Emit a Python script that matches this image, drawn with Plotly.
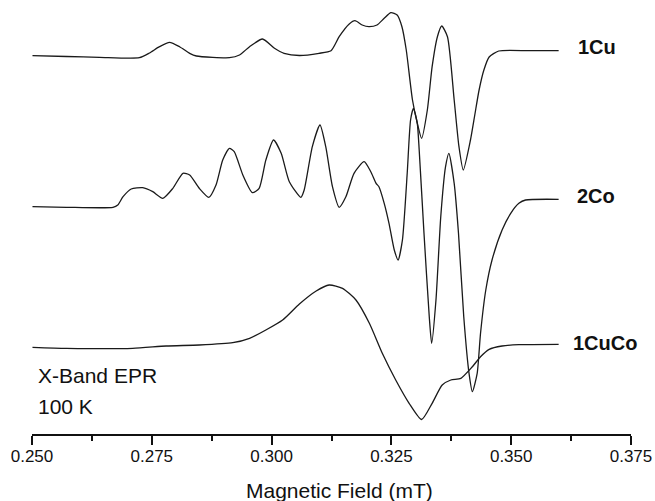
import plotly.graph_objects as go

# Field values (T, axis labelled "mT") and derivative signals (a.u.)
cu_field = [0.2501, 0.2572, 0.2641, 0.2724, 0.2745, 0.2766, 0.2787, 0.2808, 0.2829, 0.2843,
            0.2912, 0.2933, 0.2954, 0.2981, 0.3006, 0.3026, 0.3058, 0.3099, 0.3124, 0.3141,
            0.3162, 0.3174, 0.3189, 0.3203, 0.3220, 0.3235, 0.3249, 0.3262, 0.3272, 0.3281,
            0.3294, 0.3304, 0.3313, 0.3325, 0.3335, 0.3346, 0.3355, 0.3367, 0.3381, 0.3391,
            0.3400, 0.3415, 0.3424, 0.3433, 0.3443, 0.3454, 0.3474, 0.3537, 0.3599]
cu_signal = [0.3, -0.5, -1.3, -1.7, 3, 9.3, 13.7, 9.3, 2.7, 0,
             -1.7, 1, 9.3, 17, 7.7, 2.7, 0.5, 2.7, 5.3, 19.3,
             32, 35.3, 31, 29.3, 31, 37.7, 43.3, 41, 29.3, 6,
             -44, -67, -82.3, -54, -10.7, 19.3, 30, 19.3, -44, -90.7,
             -114, -84, -59, -34, -14, -1, 5, 5.3, 5.3]

co_field = [0.2501, 0.2572, 0.2669, 0.2679, 0.2690, 0.2707, 0.2731, 0.2752, 0.2773, 0.2794,
            0.2815, 0.2829, 0.2849, 0.2869, 0.2884, 0.2898, 0.2912, 0.2922, 0.2940, 0.2960,
            0.2974, 0.2988, 0.3004, 0.3020, 0.3037, 0.3061, 0.3068, 0.3085, 0.3101, 0.3113,
            0.3127, 0.3141, 0.3155, 0.3172, 0.3193, 0.3207, 0.3218, 0.3224, 0.3235, 0.3245,
            0.3256, 0.3264, 0.3273, 0.3283, 0.3290, 0.3296, 0.3304, 0.3308, 0.3318, 0.3329,
            0.3334, 0.3343, 0.3353, 0.3363, 0.3370, 0.3381, 0.3390, 0.3401, 0.3412, 0.3419,
            0.3429, 0.3436, 0.3447, 0.3460, 0.3481, 0.3499, 0.3516, 0.3530, 0.3599]
co_signal = [0.3, -0.3, -0.3, 2, 10.3, 18, 19.3, 15.3, 8.7, 18.7,
             33.7, 32, 18.7, 9.7, 22, 47, 58.7, 55.3, 32, 14.3,
             18.7, 47, 67, 53.7, 25.3, 9.7, 17, 60.3, 82, 60.3,
             20.3, -0.3, 10.3, 33.7, 45.3, 35.3, 23.7, 20.3, 3.7, -16.3,
             -43, -53, -33, 33.7, 87, 98.7, 83.7, 57, -26.3, -109.7,
             -136.3, -93, -9.7, 40.3, 53.7, 23.7, -26.3, -109.7, -166.3, -184.7,
             -166.3, -126.3, -83, -53, -23, -6.3, 3.7, 7, 7.7]

cuco_field = [0.2501, 0.2572, 0.2710, 0.2780, 0.2849, 0.2919, 0.2954, 0.2988, 0.3023, 0.3058,
              0.3093, 0.3120, 0.3148, 0.3176, 0.3204, 0.3231, 0.3259, 0.3287, 0.3313, 0.3335,
              0.3356, 0.3374, 0.3395, 0.3419, 0.3436, 0.3454, 0.3481, 0.3516, 0.3599]
cuco_signal = [0.7, -0.3, -0.3, 2, 3, 5.3, 9.7, 18, 28, 44,
               57, 63, 59.7, 48, 24.7, -5.3, -32, -55.3, -71.5, -55.3,
               -37, -32, -30.3, -18.7, -8.7, -1.3, 2, 3.3, 3.7]

series_names = ["1Cu", "2Co", "1CuCo"]
series_offsets = [378, 227, 86]
tick_vals = [0.250, 0.275, 0.300, 0.325, 0.350, 0.375]
tick_text = ["0.250", "0.275", "0.300", "0.325", "0.350", "0.375"]
x_title = "Magnetic Field (mT)"
note_lines = ["X-Band EPR", "100 K"]

fields = [cu_field, co_field, cuco_field]
signals = [cu_signal, co_signal, cuco_signal]

fig = go.Figure()
for f, s, off, name in zip(fields, signals, series_offsets, series_names):
    fig.add_trace(go.Scatter(
        x=f, y=[v + off for v in s], mode="lines", name=name,
        line=dict(color="#1a1a1a", width=1.3, shape="spline", smoothing=0.6),
        showlegend=False, hoverinfo="skip"))

font_family = "Liberation Sans, Arial, sans-serif"

label_x = [0.3635, 0.3634, 0.3624]
label_y = [434 - 46.7, 434 - 196, 434 - 342.5]
for name, lx, ly in zip(series_names, label_x, label_y):
    fig.add_annotation(x=lx, y=ly, xref="x", yref="y", text="<b>%s</b>" % name,
                       showarrow=False, xanchor="left", yanchor="middle",
                       font=dict(family=font_family, size=20, color="#111"))

fig.add_annotation(x=0.2508, y=434 - 375.5, xref="x", yref="y", text=note_lines[0],
                   showarrow=False, xanchor="left", yanchor="middle",
                   font=dict(family=font_family, size=21, color="#111"))
fig.add_annotation(x=0.2508, y=434 - 406.5, xref="x", yref="y", text=note_lines[1],
                   showarrow=False, xanchor="left", yanchor="middle",
                   font=dict(family=font_family, size=21, color="#111"))
# axis title placed in paper coordinates (below the plot area)
fig.add_annotation(x=(0.3142 - 0.25) / 0.125, y=(434 - 490) / 429.0, xref="paper", yref="paper",
                   text=x_title, showarrow=False, xanchor="center", yanchor="middle",
                   font=dict(family=font_family, size=21, color="#111"))

fig.update_layout(
    width=655, height=501,
    margin=dict(l=32.3, r=23.7, t=5, b=67, pad=0, autoexpand=False),
    paper_bgcolor="white", plot_bgcolor="white",
    xaxis=dict(range=[0.25, 0.375], showline=True, linewidth=2, linecolor="#111",
               ticks="outside", ticklen=9, tickwidth=2, tickcolor="#111",
               tickvals=tick_vals, ticktext=tick_text, showgrid=False, zeroline=False,
               automargin=False, ticklabelstandoff=-3,
               tickfont=dict(family=font_family, size=17, color="#111"),
               minor=dict(ticks="outside", ticklen=5, tickwidth=2, tickcolor="#111",
                          dtick=0.0125, tick0=0.25, showgrid=False)),
    yaxis=dict(range=[0, 429], visible=False, showgrid=False, zeroline=False),
)

fig.write_html("out.html", config={"displayModeBar": False},
               post_script="document.body.style.margin='0';document.body.style.overflow='hidden';")
